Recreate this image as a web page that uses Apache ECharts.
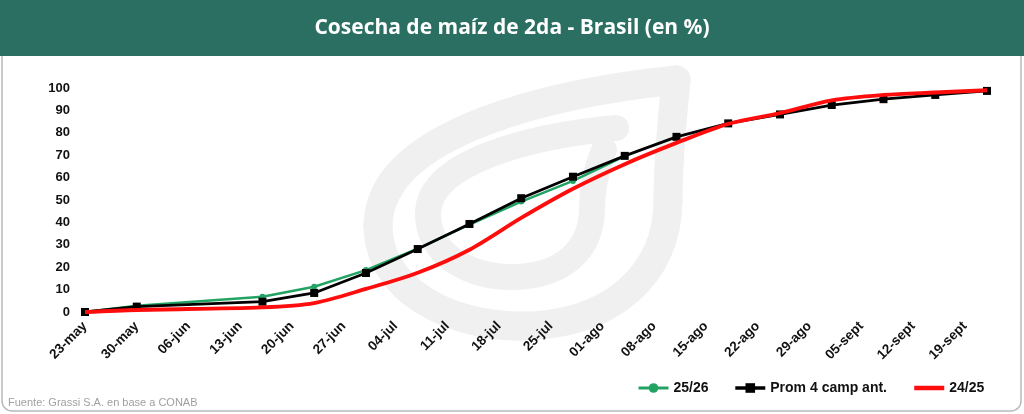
<!DOCTYPE html>
<html>
<head>
<meta charset="utf-8">
<script src="https://cdn.jsdelivr.net/npm/echarts@6/dist/echarts.min.js"></script>
<style>
  html, body { margin: 0; padding: 0; background: #fff; }
  #chart { width: 1024px; height: 414px; }
</style>
</head>
<body>
<div id="chart"></div>
<script>
// weekly tick labels, one every 7 days starting 23-may
const tickLabels = ['23-may', '30-may', '06-jun', '13-jun', '20-jun', '27-jun', '04-jul', '11-jul', '18-jul',
  '25-jul', '01-ago', '08-ago', '15-ago', '22-ago', '29-ago', '05-sept', '12-sept', '19-sept'];

// days since 23-may for each survey point
const pointDays = [0, 7, 24, 31, 38, 45, 52, 59, 66, 73, 80, 87, 94, 101, 108, 115, 122];

const s2526 = [0, 2.8, 6.8, 11.3, 18.7, 28.3, 39, 49.3, 58.5, 69.6];
const prom4 = [0, 2.4, 4.6, 8.5, 17.4, 28.1, 39.3, 50.8, 60.4, 69.7, 78.2, 84.2, 88.2, 92.4, 95, 96.9, 98.7];
const s2425 = [0, 0.9, 2.1, 4, 10.3, 17.5, 27.8, 42, 55, 66, 75.5, 84, 88.8, 94.5, 96.9, 98, 99];

const pairs = vals => vals.map((v, i) => [pointDays[i], v]);

const myChart = echarts.init(document.getElementById('chart'));

const labelFont = { color: '#111', fontWeight: 'bold', fontFamily: 'Liberation Sans, Arial, sans-serif' };

// watermark leaf, drawn as bezier pieces
function curve(x1, y1, c1x, c1y, c2x, c2y, x2, y2, w) {
  return { type: 'bezierCurve', z: -4, silent: true,
    shape: { x1: x1, y1: y1, cpx1: c1x, cpy1: c1y, cpx2: c2x, cpy2: c2y, x2: x2, y2: y2 },
    style: { fill: null, stroke: '#f0f0f0', lineWidth: w, lineCap: 'round' } };
}
const leaf = [
  curve(676, 80, 560, 92, 380, 130, 378, 225, 29),
  curve(378, 225, 378, 290, 450, 326, 520, 326, 29),
  curve(520, 326, 610, 326, 668, 275, 668, 200, 29),
  curve(668, 200, 668, 160, 672, 120, 676, 80, 29),
  curve(616, 128, 530, 136, 428, 162, 428, 214, 26),
  curve(428, 214, 428, 255, 470, 277, 512, 277, 26),
  curve(512, 277, 562, 277, 592, 250, 592, 208, 26),
  curve(592, 208, 592, 185, 598, 165, 604, 150, 26)
];

const option = {
  animation: false,
  backgroundColor: '#fff',
  graphic: [
    // panel border
    { type: 'rect', z: -6, shape: { x: 2, y: 40, width: 1019, height: 371, r: 10 },
      style: { fill: '#fff', stroke: '#b9b9b9', lineWidth: 1.5 } },
    // header band
    { type: 'rect', z: -5, shape: { x: 0, y: 0, width: 1024, height: 56 }, style: { fill: '#2b6f63' } },
    { type: 'text', z: 5, x: 512, y: 28,
      style: { text: 'Cosecha de maíz de 2da - Brasil (en %)', fill: '#fff', align: 'center', verticalAlign: 'middle',
        font: 'bold 21px "Open Sans", sans-serif' } },
    ...leaf,
    { type: 'text', z: 5, x: 8, y: 403,
      style: { text: 'Fuente: Grassi S.A. en base a CONAB', fill: '#a0a0a0', verticalAlign: 'middle',
        font: '11px "Liberation Sans", Arial, sans-serif' } }
  ],
  grid: { left: 85, right: 37, top: 88, bottom: 102 },
  legend: {
    left: 632, top: 376,
    itemWidth: 30, itemHeight: 12, itemGap: 25,
    textStyle: { color: '#111', fontWeight: 'bold', fontSize: 14, fontFamily: 'Liberation Sans, Arial, sans-serif' },
    data: [
      { name: '25/26', lineStyle: { width: 3 } },
      { name: 'Prom 4 camp ant.', lineStyle: { width: 3.5 } },
      { name: '24/25', itemStyle: { opacity: 0 }, lineStyle: { width: 4.5 } }
    ]
  },
  xAxis: {
    type: 'value', min: 0, max: 122, interval: 7,
    axisLine: { show: false }, axisTick: { show: false }, splitLine: { show: false },
    axisLabel: Object.assign({}, labelFont, {
      fontSize: 13.5, rotate: 45, margin: 12, showMaxLabel: false,
      formatter: v => (v % 7 === 0 ? (tickLabels[v / 7] || '') : '')
    })
  },
  yAxis: {
    type: 'value', min: 0, max: 100, interval: 10,
    axisLine: { show: false }, axisTick: { show: false }, splitLine: { show: false },
    axisLabel: Object.assign({}, labelFont, { fontSize: 13, margin: 15 })
  },
  series: [
    { name: '25/26', type: 'line', data: pairs(s2526), z: 3,
      symbol: 'circle', symbolSize: 6,
      lineStyle: { color: '#22a363', width: 2.5 }, itemStyle: { color: '#22a363' } },
    { name: 'Prom 4 camp ant.', type: 'line', data: pairs(prom4), z: 4,
      symbol: 'rect', symbolSize: 8,
      lineStyle: { color: '#000', width: 2.8 }, itemStyle: { color: '#000' } },
    { name: '24/25', type: 'line', data: pairs(s2425), z: 5,
      symbol: 'none', smooth: 0.3,
      lineStyle: { color: '#ff0d0d', width: 3.8 }, itemStyle: { color: '#ff0d0d' } }
  ]
};

myChart.setOption(option);
</script>
</body>
</html>
